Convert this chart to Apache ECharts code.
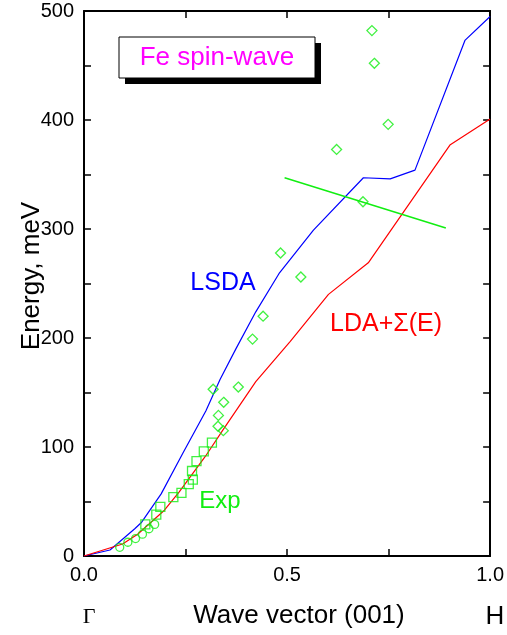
<!DOCTYPE html>
<html>
<head>
<meta charset="utf-8">
<script src="https://cdn.jsdelivr.net/npm/echarts@6/dist/echarts.min.js"></script>
<style>
html,body{margin:0;padding:0;background:#fff;}
#chart{width:507px;height:635px;}
</style>
</head>
<body>
<div id="chart"></div>
<script>
// LSDA calculation (blue)
const lsdaX = [0, 0.064, 0.125, 0.142, 0.19, 0.243, 0.30, 0.335, 0.374, 0.423, 0.48, 0.565, 0.688, 0.754, 0.815, 0.938, 1.0];
const lsdaY = [0, 5.5, 25, 31, 57, 94, 133, 162, 190, 224, 259, 299, 347, 346, 354, 473, 495];
// LDA+Sigma(E) calculation (red)
const ldaX = [0, 0.095, 0.132, 0.198, 0.235, 0.30, 0.341, 0.423, 0.508, 0.602, 0.700, 0.901, 1.0];
const ldaY = [0, 11, 20, 42, 59, 92, 115, 160, 197, 240, 269, 377, 401];
// Green straight segment
const gLineX = [0.494, 0.891];
const gLineY = [347, 301];
// Experimental points: diamonds
const diamondX = [0.709, 0.715, 0.749, 0.622, 0.687, 0.484, 0.534, 0.441, 0.415, 0.318, 0.380, 0.344, 0.331, 0.330, 0.343];
const diamondY = [482, 452, 396, 373, 325, 278, 256, 220, 199, 153, 155, 141, 129, 119, 115];
// Experimental points: squares
const squareX = [0.315, 0.295, 0.277, 0.266, 0.268, 0.258, 0.240, 0.220, 0.188, 0.178, 0.151];
const squareY = [104, 96, 87, 78, 70, 66, 58, 54, 45, 38, 29];
// Experimental points: circles
const circleX = [0.174, 0.160, 0.144, 0.127, 0.108, 0.088];
const circleY = [29, 25, 20, 16, 12.6, 8];

const xTicks = ['0.0', '0.5', '1.0'];

const zip = (a, b) => a.map((v, i) => [v, b[i]]);
const SANS = '"Liberation Sans", Arial, Helvetica, sans-serif';
const GREEN = '#11ee11';

const chart = echarts.init(document.getElementById('chart'), null, {renderer: 'canvas'});

const axisLine = {show: true, onZero: false, lineStyle: {color: '#000', width: 2}};
const axisTick = {show: true, inside: true, length: 7, lineStyle: {color: '#000', width: 1.5}};

const option = {
  animation: false,
  backgroundColor: '#fff',
  grid: {left: 84, right: 14, top: 11, bottom: 79, containLabel: false},
  xAxis: [
    {
      type: 'value', min: 0, max: 1, interval: 0.25, position: 'bottom',
      axisLine, axisTick, splitLine: {show: false},
      axisLabel: {
        margin: 9, fontSize: 20, color: '#000', fontFamily: SANS,
        formatter: v => { const i = Math.round(v * 2); return Math.abs(v * 2 - i) < 1e-6 ? xTicks[i] : ''; }
      }
    },
    {
      type: 'value', min: 0, max: 1, interval: 0.25, position: 'top',
      axisLine, axisTick, splitLine: {show: false}, axisLabel: {show: false}
    }
  ],
  yAxis: [
    {
      type: 'value', min: 0, max: 500, interval: 50, position: 'left',
      axisLine, axisTick, splitLine: {show: false},
      axisLabel: {
        margin: 10, fontSize: 20, color: '#000', fontFamily: SANS,
        formatter: v => (v % 100 === 0 ? String(v) : '')
      }
    },
    {
      type: 'value', min: 0, max: 500, interval: 50, position: 'right',
      axisLine, axisTick, splitLine: {show: false}, axisLabel: {show: false}
    }
  ],
  series: [
    {
      type: 'line', data: zip(lsdaX, lsdaY), showSymbol: false, symbol: 'none',
      lineStyle: {color: '#0000ff', width: 1.2}, z: 3
    },
    {
      type: 'line', data: zip(ldaX, ldaY), showSymbol: false, symbol: 'none',
      lineStyle: {color: '#ff0000', width: 1.2}, z: 3
    },
    {
      type: 'line', data: zip(gLineX, gLineY), showSymbol: false, symbol: 'none',
      lineStyle: {color: GREEN, width: 1.5}, z: 3
    },
    {
      type: 'scatter', data: zip(diamondX, diamondY), symbol: 'diamond', symbolSize: 10,
      itemStyle: {color: 'rgba(0,0,0,0)', borderColor: GREEN, borderWidth: 1.3}, z: 4
    },
    {
      type: 'scatter', data: zip(squareX, squareY), symbol: 'rect', symbolSize: 9,
      itemStyle: {color: 'rgba(0,0,0,0)', borderColor: GREEN, borderWidth: 1.3}, z: 4
    },
    {
      type: 'scatter', data: zip(circleX, circleY), symbol: 'circle', symbolSize: 8,
      itemStyle: {color: 'rgba(0,0,0,0)', borderColor: GREEN, borderWidth: 1.3}, z: 4
    }
  ],
  graphic: [
    {type: 'rect', shape: {x: 125, y: 43, width: 196, height: 41}, style: {fill: '#000'}, z: 10},
    {type: 'rect', shape: {x: 119, y: 37, width: 196, height: 41}, style: {fill: '#fff', stroke: '#000', lineWidth: 1}, z: 11},
    {type: 'text', x: 217, y: 58, style: {text: 'Fe spin-wave', fill: '#ff00ff', font: '26px ' + SANS, textAlign: 'center', textVerticalAlign: 'middle'}, z: 12},
    {type: 'text', x: 223, y: 283, style: {text: 'LSDA', fill: '#0000ff', font: '25px ' + SANS, textAlign: 'center', textVerticalAlign: 'middle'}, z: 12},
    {type: 'text', x: 386, y: 324, style: {text: 'LDA+Σ(E)', fill: '#ff0000', font: '25px ' + SANS, textAlign: 'center', textVerticalAlign: 'middle'}, z: 12},
    {type: 'text', x: 220, y: 501, style: {text: 'Exp', fill: GREEN, font: '24px ' + SANS, textAlign: 'center', textVerticalAlign: 'middle'}, z: 12},
    {type: 'text', x: 32, y: 276, rotation: Math.PI / 2, style: {text: 'Energy, meV', fill: '#000', font: '26px ' + SANS, textAlign: 'center', textVerticalAlign: 'middle'}, z: 12},
    {type: 'text', x: 299, y: 616, style: {text: 'Wave vector (001)', fill: '#000', font: '26px ' + SANS, textAlign: 'center', textVerticalAlign: 'middle'}, z: 12},
    {type: 'text', x: 89, y: 617, style: {text: 'Γ', fill: '#000', font: '22px "Liberation Serif", "Times New Roman", serif', textAlign: 'center', textVerticalAlign: 'middle'}, z: 12},
    {type: 'text', x: 495, y: 617, style: {text: 'H', fill: '#000', font: '26px ' + SANS, textAlign: 'center', textVerticalAlign: 'middle'}, z: 12}
  ]
};
chart.setOption(option);
</script>
</body>
</html>
